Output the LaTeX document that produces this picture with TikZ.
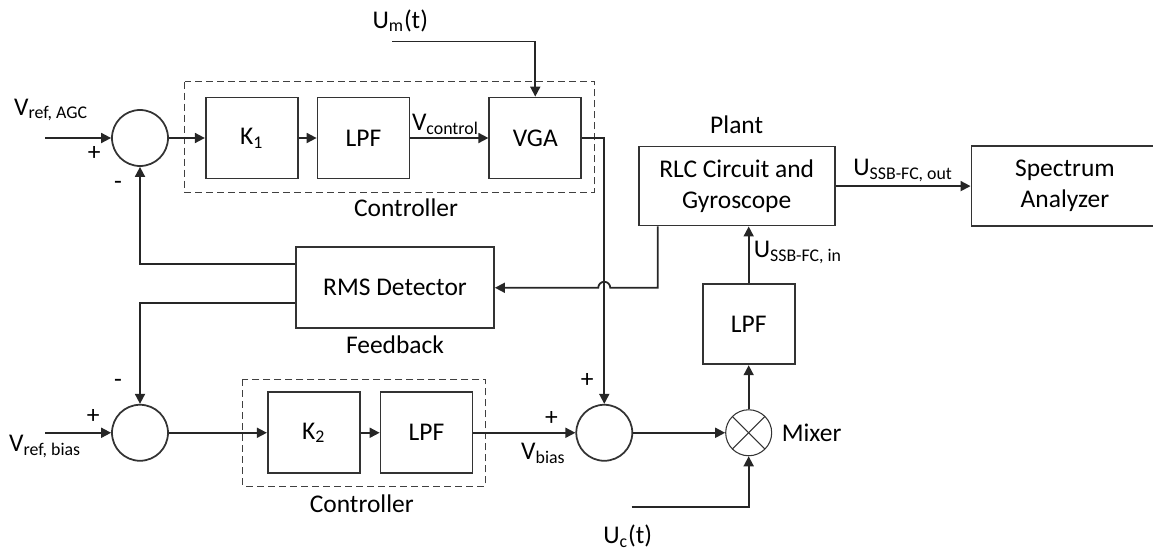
\documentclass[tikz,border=0pt]{standalone}
\usepackage{fontspec}
\setmainfont{Carlito}
\usetikzlibrary{positioning,arrows.meta}

\begin{document}
\begin{tikzpicture}[
  x=0.2mm, y=0.2mm,
  font=\fontsize{14.5}{17.5}\selectfont,
  >={Triangle[length=2mm,width=2mm]},
  node distance=8mm and 12mm,
  block/.style={
    draw=black!80,
    line width=1pt,
    align=center,
    minimum width=18.4mm,
    minimum height=16.2mm,
    inner sep=2pt
  },
  sumnode/.style={circle, draw=black!80, line width=1pt, minimum size=11.2mm, inner sep=0pt},
  mixnode/.style={
    circle, draw=black!80, semithick, minimum size=9.2mm, inner sep=0pt,
    path picture={
      \draw[semithick,black!80] (path picture bounding box.north west) -- (path picture bounding box.south east);
      \draw[semithick,black!80] (path picture bounding box.north east) -- (path picture bounding box.south west);
    }
  },
  ctrlbox/.style={draw=black!75, semithick, dash pattern=on 1.4mm off 0.8mm},
  sig/.style={->, line width=1pt, draw=black!85},
  lbl/.style={inner sep=1pt}
]
\useasboundingbox (0,0) rectangle (1153,-552);

% AGC loop
\node[sumnode] (sumagc) at (140,-138) {};
\node[block, right=7.2mm of sumagc] (kone) {K\textsubscript{1}};
\node[block, right=3.6mm of kone] (lpfagc) {LPF};
\node[block, right=15.6mm of lpfagc] (vga) {VGA};
\draw[ctrlbox] ([xshift=-4mm,yshift=3mm]kone.north west) rectangle ([xshift=2.4mm,yshift=-2.6mm]vga.south east);
\node[lbl] at ([xshift=8.5mm,yshift=-5.6mm]lpfagc.south) {Controller};

\node[block, minimum width=39.6mm, below=13.4mm of lpfagc, xshift=6.3mm] (rms) {RMS Detector};
\node[lbl, below=1mm of rms] (fblabel) {Feedback};

% bias loop
\node[sumnode, below=47.4mm of sumagc] (sumbias) {};
\node[block, right=19.6mm of sumbias] (ktwo) {K\textsubscript{2}};
\node[block, right=3.8mm of ktwo] (lpfbias) {LPF};
\draw[ctrlbox] ([xshift=-4.8mm,yshift=2.4mm]ktwo.north west) rectangle ([xshift=2.4mm,yshift=-2.4mm]lpfbias.south east);
\node[lbl] at ([xshift=9.6mm,yshift=-6mm]ktwo.south) {Controller};

\node[sumnode, right=20.4mm of lpfbias] (sumvga) {};
\node[mixnode, right=18.4mm of sumvga] (mixer) {};
\node[lbl, right=1.5mm of mixer] (mixlabel) {Mixer};
\node[block, minimum height=16mm, above=8.8mm of mixer] (lpfmix) {LPF};

% plant and analyzer
\node[block, minimum width=39.2mm, minimum height=15.8mm, above=11.4mm of lpfmix, xshift=-2.4mm] (plant) {RLC Circuit and\\Gyroscope};
\node[lbl, above=2mm of plant] (plantlabel) {Plant};
\node[block, minimum width=37.4mm, minimum height=16mm, right=27mm of plant] (spectrum) {Spectrum\\Analyzer};

% free ends
\coordinate (agcin) at ([xshift=-13.2mm]sumagc.west);
\coordinate (biasin) at ([xshift=-13.2mm]sumbias.west);
\coordinate (umin) at ([xshift=-28.6mm,yshift=11mm]vga.north);
\coordinate (ucin) at ([xshift=-23.4mm,yshift=-10.2mm]mixer.south);
\coordinate (hop) at (sumvga.north |- rms.east);

% signals
\draw[sig] (agcin) -- (sumagc);
\draw[sig] (sumagc) -- (kone);
\draw[sig] (kone) -- (lpfagc);
\draw[sig] (lpfagc) -- (vga);
\draw[sig] (umin) -| (vga.north);
\draw[sig] (vga.east) -| (sumvga.north);

\draw[sig] ([xshift=4mm]plant.south west) |- ([xshift=1.2mm]hop) arc[start angle=0,end angle=180,radius=1.2mm] -- (rms.east);
\draw[sig] ([yshift=4.7mm]rms.west) -| (sumagc.south);
\draw[sig] ([yshift=-3.1mm]rms.west) -| (sumbias.north);

\draw[sig] (biasin) -- (sumbias);
\draw[sig] (sumbias) -- (ktwo);
\draw[sig] (ktwo) -- (lpfbias);
\draw[sig] (lpfbias) -- (sumvga);
\draw[sig] (sumvga) -- (mixer);
\draw[sig] (ucin) -| (mixer.south);
\draw[sig] (mixer) -- (lpfmix);
\draw[sig] (lpfmix.north) -- (lpfmix.north |- plant.south);
\draw[sig] (plant) -- node[lbl, above=1pt] {U\textsubscript{SSB-FC, out}} (spectrum);

% labels
\node[lbl] at ([xshift=1.2mm,yshift=5.6mm]agcin) {V\textsubscript{ref, AGC}};
\node[lbl] at ([yshift=-2.8mm]biasin) {V\textsubscript{ref, bias}};
\node[lbl] at ([xshift=1.6mm,yshift=4.2mm]umin) {U\textsubscript{m}(t)};
\node[lbl] at ([xshift=-0.8mm,yshift=-5.8mm]ucin) {U\textsubscript{c}(t)};
\node[lbl] at ([xshift=7mm,yshift=2.8mm]lpfagc.east) {V\textsubscript{control}};
\node[lbl, anchor=west] at ([xshift=0.6mm,yshift=6.2mm]lpfmix.north) {U\textsubscript{SSB-FC, in}};
\node[lbl] at ([xshift=-6.4mm,yshift=-4.2mm]sumvga.west) {V\textsubscript{bias}};

\node[lbl] at ([xshift=-3.4mm,yshift=-3mm]sumagc.west) {+};
\node[lbl] at ([xshift=-4.4mm,yshift=-3.8mm]sumagc.south) {-};
\node[lbl] at ([xshift=-3.6mm,yshift=3.2mm]sumbias.west) {+};
\node[lbl] at ([xshift=-4.4mm,yshift=4mm]sumbias.north) {-};
\node[lbl] at ([xshift=-4.8mm,yshift=2.8mm]sumvga.west) {+};
\node[lbl] at ([xshift=-3.4mm,yshift=4.6mm]sumvga.north) {+};
\end{tikzpicture}
\end{document}
